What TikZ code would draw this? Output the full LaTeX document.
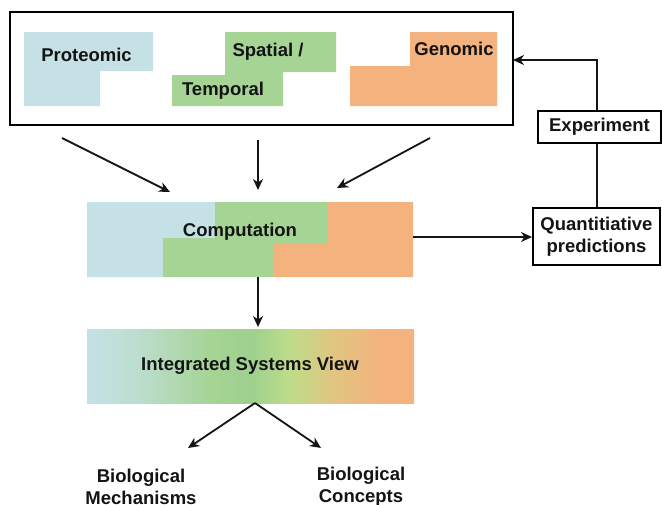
\documentclass[tikz,border=0pt]{standalone}
\usepackage{fontspec}
\setmainfont{Liberation Sans}
\usetikzlibrary{arrows.meta}
\definecolor{cblue}{HTML}{C5E1E6}
\definecolor{cgreen}{HTML}{A5D495}
\definecolor{cgreenm}{HTML}{9ED08E}
\definecolor{corange}{HTML}{F4B27E}
\definecolor{cyg}{HTML}{BEDC8A}
\definecolor{cyel}{HTML}{E2C480}
\definecolor{ctext}{HTML}{141414}
\pgfdeclarehorizontalshading{integ}{100bp}{color(0bp)=(cblue); color(25bp)=(cblue); color(33bp)=(cblue!70!cgreen); color(44bp)=(cgreen); color(50bp)=(cgreenm); color(56bp)=(cyg); color(63bp)=(cyel); color(70bp)=(corange); color(100bp)=(corange)}
\tikzset{
  lbl/.style={font=\fontsize{18.5}{22}\selectfont\bfseries, text=ctext, inner sep=0pt},
  frame/.style={draw=black, line width=2pt},
  conn/.style={draw=ctext, line width=1.8pt, -{Stealth[length=11pt,width=10pt,inset=3.5pt]}},
  plain/.style={draw=ctext, line width=1.8pt},
}
\begin{document}
\begin{tikzpicture}[x=1pt,y=-1pt]
\useasboundingbox (0,0) rectangle (662,504);
% outer box
\draw[frame] (10,12) rectangle (513,125);
\coordinate (boxR) at (513,60);
% Proteomic
\fill[cblue] (24,32) -- (153,32) -- (153,71) -- (100,71) -- (100,106) -- (24,106) -- cycle;
\node[lbl] (prot) at (86.5,55) {Proteomic};
% Spatial / Temporal
\fill[cgreen] (225,32) -- (336,32) -- (336,72) -- (283,72) -- (283,106) -- (172,106) -- (172,75) -- (225,75) -- cycle;
\node[lbl] (spat) at (268,52) {Spatial /};
\node[lbl] (temp) at (223,91) {Temporal};
% Genomic
\fill[corange] (410,32) -- (497,32) -- (497,106) -- (350,106) -- (350,66) -- (410,66) -- cycle;
\node[lbl] (geno) at (454,49) {Genomic};
% arrow sources
\coordinate (a1) at (62,138);
\coordinate (a2) at (258,140);
\coordinate (a3) at (430,138);
\coordinate (t1) at (170,192);
\coordinate (t2) at (258,190);
\coordinate (t3) at (337,188);
\draw[conn] (a1) -- (t1);
\draw[conn] (a2) -- (t2);
\draw[conn] (a3) -- (t3);
% Computation block
\fill[cblue] (87,202) -- (215,202) -- (215,238) -- (163,238) -- (163,277) -- (87,277) -- cycle;
\fill[cgreen] (215,202) -- (327,202) -- (327,243) -- (273,243) -- (273,277) -- (163,277) -- (163,238) -- (215,238) -- cycle;
\fill[corange] (327,202) -- (413,202) -- (413,277) -- (273,277) -- (273,243) -- (327,243) -- cycle;
\node[lbl] (comp) at (240,232) {Computation};
\coordinate (compB) at (258,277);
\coordinate (compR) at (413,237);
% Integrated
\shade[shading=integ] (87,329) rectangle (414,403);
\node[lbl] (integ) at (250,366) {Integrated Systems View};
\coordinate (integT) at (258,327);
\coordinate (integB) at (255,403);
\draw[conn] (compB) -- (integT);
\coordinate (m1) at (188,448);
\coordinate (m2) at (321,448);
\draw[conn] (integB) -- (m1);
\draw[conn] (integB) -- (m2);
\node[lbl, align=center] (mech) at (141,487) {Biological\\Mechanisms};
\node[lbl, align=center] (conc) at (361,487) {Biological\\Concepts};
% right side
\node[frame, lbl, minimum width=123pt, minimum height=32pt, inner sep=0pt] (exp) at (599.5,127) {Experiment};
\node[frame, lbl, align=center, minimum width=127pt, minimum height=57pt, inner sep=0pt] (quant) at (596.5,236.5) {Quantitiative\\predictions};
\draw[conn] (compR) -- (quant.west |- compR);
\draw[plain] (exp.south -| 597,0) -- (quant.north -| 597,0);
\draw[conn] (exp.north -| 597,0) -- (597,60) -- (boxR);
\end{tikzpicture}
\end{document}
